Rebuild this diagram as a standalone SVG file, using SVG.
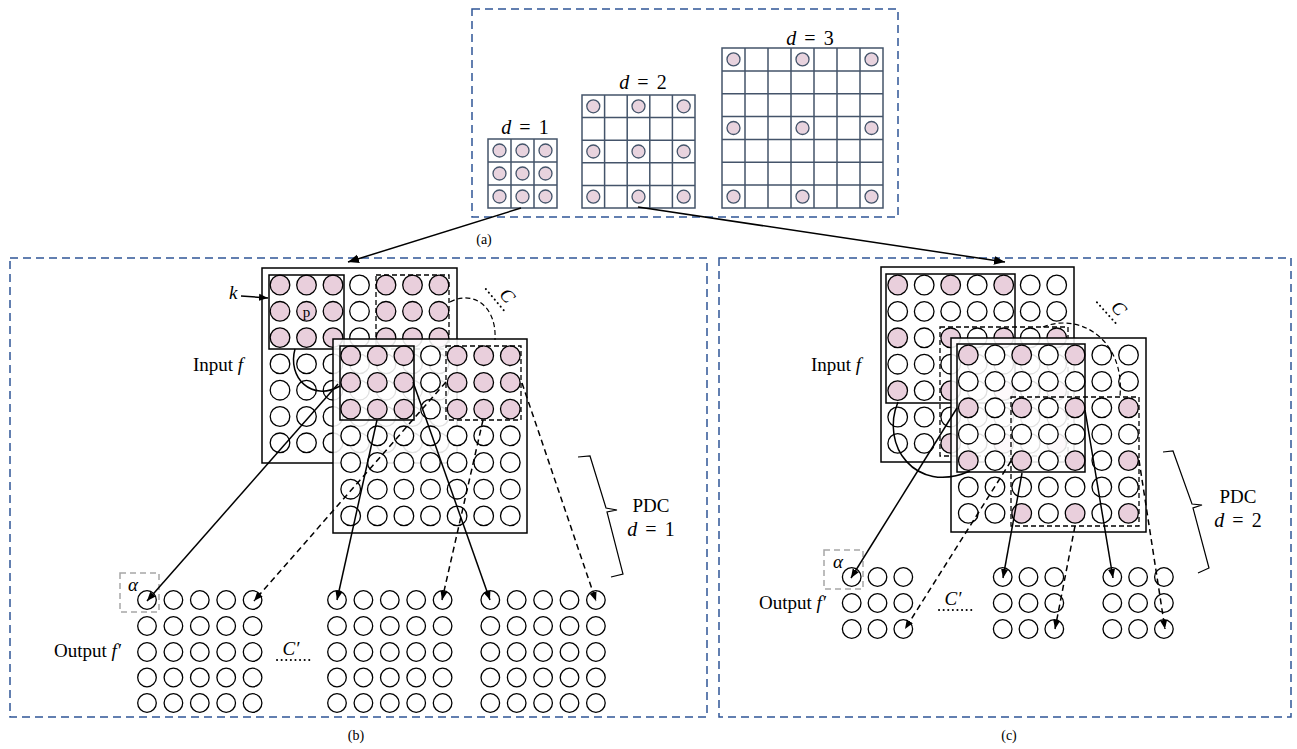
<svg xmlns="http://www.w3.org/2000/svg" xmlns:xlink="http://www.w3.org/1999/xlink" width="1297" height="749" viewBox="0 0 1297 749">
<style>
.panel{fill:none;stroke:#2f5597;stroke-width:1.5;stroke-dasharray:8,5}
.ag{fill:#fff;stroke:#44546a;stroke-width:1.5}
.agl{stroke:#44546a;stroke-width:1.5;fill:none}
.ac{fill:#e8d3de;stroke:#44546a;stroke-width:1.3}
.w{fill:#fff;stroke:#000;stroke-width:1.3}
.p{fill:#e9cfdc;stroke:#000;stroke-width:1.3}
.box{fill:#fff;stroke:#000;stroke-width:1.5}
.front{fill:#fff;fill-opacity:0.88;stroke:#000;stroke-width:1.5}
.ker{fill:none;stroke:#000;stroke-width:1.5}
.kd{fill:none;stroke:#000;stroke-width:1.3;stroke-dasharray:5,3}
.ln{fill:none;stroke:#000;stroke-width:1.5}
.dl{fill:none;stroke:#000;stroke-width:1.5;stroke-dasharray:6,4}
.cd{fill:none;stroke:#000;stroke-width:1.2;stroke-dasharray:5,3}
.dots{fill:none;stroke:#000;stroke-width:2;stroke-linecap:round;stroke-dasharray:0.1,4.5}
.alpha{fill:none;stroke:#a6a6a6;stroke-width:1.5;stroke-dasharray:6,4}
.t{font-family:"Liberation Serif","Times New Roman",serif;font-size:19px;fill:#000}
.m{font-family:"Liberation Serif","Times New Roman",serif;font-size:20px;fill:#000;word-spacing:3px}
.i{font-style:italic}
.cap{font-family:"Liberation Serif","Times New Roman",serif;font-size:14px;fill:#000;text-anchor:middle}
</style>
<defs>
<marker id="ah" viewBox="0 0 10 10" refX="10" refY="5" markerWidth="9" markerHeight="9" markerUnits="userSpaceOnUse" orient="auto"><path d="M0,1 L10,5 L0,9 z" fill="#000"/></marker>
<marker id="ahb" viewBox="0 0 10 10" refX="10" refY="5" markerWidth="11" markerHeight="11" markerUnits="userSpaceOnUse" orient="auto"><path d="M0,1 L10,5 L0,9 z" fill="#000"/></marker>
<g id="o5"><circle class="w" cx="0" cy="0" r="9.3"/><circle class="w" cx="26.4" cy="0" r="9.3"/><circle class="w" cx="52.8" cy="0" r="9.3"/><circle class="w" cx="79.2" cy="0" r="9.3"/><circle class="w" cx="105.6" cy="0" r="9.3"/></g>
<g id="o3"><circle class="w" cx="0" cy="0" r="9.3"/><circle class="w" cx="25.8" cy="0" r="9.3"/><circle class="w" cx="51.6" cy="0" r="9.3"/></g>
</defs>

<!-- panel boxes -->
<rect id="panel-a" class="panel" x="472" y="9" width="426" height="208"/>
<rect id="panel-b" class="panel" x="10" y="258" width="697" height="459"/>
<rect id="panel-c" class="panel" x="719" y="258" width="572" height="459"/>

<!-- panel (a) -->
<g id="grid-d1">
<rect class="ag" x="488" y="139" width="69" height="69"/>
<path class="agl" d="M511,139V208M534,139V208M488,162H557M488,185H557"/>
<circle class="ac" cx="499.5" cy="150.5" r="6.5"/><circle class="ac" cx="522.5" cy="150.5" r="6.5"/><circle class="ac" cx="545.5" cy="150.5" r="6.5"/>
<circle class="ac" cx="499.5" cy="173.5" r="6.5"/><circle class="ac" cx="522.5" cy="173.5" r="6.5"/><circle class="ac" cx="545.5" cy="173.5" r="6.5"/>
<circle class="ac" cx="499.5" cy="196.5" r="6.5"/><circle class="ac" cx="522.5" cy="196.5" r="6.5"/><circle class="ac" cx="545.5" cy="196.5" r="6.5"/>
<text class="m" x="525" y="134" text-anchor="middle"><tspan class="i">d</tspan> = 1</text>
</g>
<g id="grid-d2">
<rect class="ag" x="582" y="95" width="113" height="113"/>
<path class="agl" d="M604.6,95V208M627.2,95V208M649.8,95V208M672.4,95V208M582,117.6H695M582,140.2H695M582,162.8H695M582,185.4H695"/>
<circle class="ac" cx="593.3" cy="106.3" r="6.5"/><circle class="ac" cx="638.5" cy="106.3" r="6.5"/><circle class="ac" cx="683.7" cy="106.3" r="6.5"/>
<circle class="ac" cx="593.3" cy="151.5" r="6.5"/><circle class="ac" cx="638.5" cy="151.5" r="6.5"/><circle class="ac" cx="683.7" cy="151.5" r="6.5"/>
<circle class="ac" cx="593.3" cy="196.7" r="6.5"/><circle class="ac" cx="638.5" cy="196.7" r="6.5"/><circle class="ac" cx="683.7" cy="196.7" r="6.5"/>
<text class="m" x="643" y="89" text-anchor="middle"><tspan class="i">d</tspan> = 2</text>
</g>
<g id="grid-d3">
<rect class="ag" x="722" y="48" width="161" height="160"/>
<path class="agl" d="M745,48V208M768,48V208M791,48V208M814,48V208M837,48V208M860,48V208M722,70.9H883M722,93.7H883M722,116.6H883M722,139.4H883M722,162.3H883M722,185.1H883"/>
<circle class="ac" cx="733.5" cy="59.4" r="6.5"/><circle class="ac" cx="802.5" cy="59.4" r="6.5"/><circle class="ac" cx="871.5" cy="59.4" r="6.5"/>
<circle class="ac" cx="733.5" cy="128" r="6.5"/><circle class="ac" cx="802.5" cy="128" r="6.5"/><circle class="ac" cx="871.5" cy="128" r="6.5"/>
<circle class="ac" cx="733.5" cy="196.6" r="6.5"/><circle class="ac" cx="802.5" cy="196.6" r="6.5"/><circle class="ac" cx="871.5" cy="196.6" r="6.5"/>
<text class="m" x="810" y="45" text-anchor="middle"><tspan class="i">d</tspan> = 3</text>
</g>
<text class="cap" x="484" y="244">(a)</text>

<!-- panel (b) input back -->
<g id="b-input-back">
<rect class="box" x="262" y="268" width="195" height="195"/>
<g>
<circle class="p" cx="280" cy="285" r="9.8"/><circle class="p" cx="306.5" cy="285" r="9.8"/><circle class="p" cx="333" cy="285" r="9.8"/><circle class="w" cx="359.5" cy="285" r="9.8"/><circle class="p" cx="386" cy="285" r="9.8"/><circle class="p" cx="412.5" cy="285" r="9.8"/><circle class="p" cx="439" cy="285" r="9.8"/>
<circle class="p" cx="280" cy="311.3" r="9.8"/><circle class="p" cx="306.5" cy="311.3" r="9.8"/><circle class="p" cx="333" cy="311.3" r="9.8"/><circle class="w" cx="359.5" cy="311.3" r="9.8"/><circle class="p" cx="386" cy="311.3" r="9.8"/><circle class="p" cx="412.5" cy="311.3" r="9.8"/><circle class="p" cx="439" cy="311.3" r="9.8"/>
<circle class="p" cx="280" cy="337.6" r="9.8"/><circle class="p" cx="306.5" cy="337.6" r="9.8"/><circle class="p" cx="333" cy="337.6" r="9.8"/><circle class="w" cx="359.5" cy="337.6" r="9.8"/><circle class="p" cx="386" cy="337.6" r="9.8"/><circle class="p" cx="412.5" cy="337.6" r="9.8"/><circle class="p" cx="439" cy="337.6" r="9.8"/>
<circle class="w" cx="280" cy="363.9" r="9.8"/><circle class="w" cx="306.5" cy="363.9" r="9.8"/><circle class="w" cx="333" cy="363.9" r="9.8"/><circle class="w" cx="359.5" cy="363.9" r="9.8"/><circle class="w" cx="386" cy="363.9" r="9.8"/><circle class="w" cx="412.5" cy="363.9" r="9.8"/><circle class="w" cx="439" cy="363.9" r="9.8"/>
<circle class="w" cx="280" cy="390.2" r="9.8"/><circle class="w" cx="306.5" cy="390.2" r="9.8"/><circle class="w" cx="333" cy="390.2" r="9.8"/><circle class="w" cx="359.5" cy="390.2" r="9.8"/><circle class="w" cx="386" cy="390.2" r="9.8"/><circle class="w" cx="412.5" cy="390.2" r="9.8"/><circle class="w" cx="439" cy="390.2" r="9.8"/>
<circle class="w" cx="280" cy="416.5" r="9.8"/><circle class="w" cx="306.5" cy="416.5" r="9.8"/><circle class="w" cx="333" cy="416.5" r="9.8"/><circle class="w" cx="359.5" cy="416.5" r="9.8"/><circle class="w" cx="386" cy="416.5" r="9.8"/><circle class="w" cx="412.5" cy="416.5" r="9.8"/><circle class="w" cx="439" cy="416.5" r="9.8"/>
<circle class="w" cx="280" cy="442.8" r="9.8"/><circle class="w" cx="306.5" cy="442.8" r="9.8"/><circle class="w" cx="333" cy="442.8" r="9.8"/><circle class="w" cx="359.5" cy="442.8" r="9.8"/><circle class="w" cx="386" cy="442.8" r="9.8"/><circle class="w" cx="412.5" cy="442.8" r="9.8"/><circle class="w" cx="439" cy="442.8" r="9.8"/>
</g>
<rect class="ker" x="269" y="275" width="75" height="74"/>
<rect class="kd" x="376" y="275" width="73" height="74"/>
<text x="306.5" y="317" font-family="Liberation Serif, serif" font-size="15" text-anchor="middle">p</text>
</g>

<!-- panel (b) input front -->
<g id="b-input-front">
<rect class="front" x="333" y="339" width="194" height="194"/>
<circle class="p" cx="350.7" cy="355.7" r="9.8"/><circle class="p" cx="377.3" cy="355.7" r="9.8"/><circle class="p" cx="403.9" cy="355.7" r="9.8"/><circle class="w" cx="430.5" cy="355.7" r="9.8"/><circle class="p" cx="457.1" cy="355.7" r="9.8"/><circle class="p" cx="483.7" cy="355.7" r="9.8"/><circle class="p" cx="510.3" cy="355.7" r="9.8"/>
<circle class="p" cx="350.7" cy="382.4" r="9.8"/><circle class="p" cx="377.3" cy="382.4" r="9.8"/><circle class="p" cx="403.9" cy="382.4" r="9.8"/><circle class="w" cx="430.5" cy="382.4" r="9.8"/><circle class="p" cx="457.1" cy="382.4" r="9.8"/><circle class="p" cx="483.7" cy="382.4" r="9.8"/><circle class="p" cx="510.3" cy="382.4" r="9.8"/>
<circle class="p" cx="350.7" cy="409.1" r="9.8"/><circle class="p" cx="377.3" cy="409.1" r="9.8"/><circle class="p" cx="403.9" cy="409.1" r="9.8"/><circle class="w" cx="430.5" cy="409.1" r="9.8"/><circle class="p" cx="457.1" cy="409.1" r="9.8"/><circle class="p" cx="483.7" cy="409.1" r="9.8"/><circle class="p" cx="510.3" cy="409.1" r="9.8"/>
<circle class="w" cx="350.7" cy="435.8" r="9.8"/><circle class="w" cx="377.3" cy="435.8" r="9.8"/><circle class="w" cx="403.9" cy="435.8" r="9.8"/><circle class="w" cx="430.5" cy="435.8" r="9.8"/><circle class="w" cx="457.1" cy="435.8" r="9.8"/><circle class="w" cx="483.7" cy="435.8" r="9.8"/><circle class="w" cx="510.3" cy="435.8" r="9.8"/>
<circle class="w" cx="350.7" cy="462.5" r="9.8"/><circle class="w" cx="377.3" cy="462.5" r="9.8"/><circle class="w" cx="403.9" cy="462.5" r="9.8"/><circle class="w" cx="430.5" cy="462.5" r="9.8"/><circle class="w" cx="457.1" cy="462.5" r="9.8"/><circle class="w" cx="483.7" cy="462.5" r="9.8"/><circle class="w" cx="510.3" cy="462.5" r="9.8"/>
<circle class="w" cx="350.7" cy="489.2" r="9.8"/><circle class="w" cx="377.3" cy="489.2" r="9.8"/><circle class="w" cx="403.9" cy="489.2" r="9.8"/><circle class="w" cx="430.5" cy="489.2" r="9.8"/><circle class="w" cx="457.1" cy="489.2" r="9.8"/><circle class="w" cx="483.7" cy="489.2" r="9.8"/><circle class="w" cx="510.3" cy="489.2" r="9.8"/>
<circle class="w" cx="350.7" cy="515.9" r="9.8"/><circle class="w" cx="377.3" cy="515.9" r="9.8"/><circle class="w" cx="403.9" cy="515.9" r="9.8"/><circle class="w" cx="430.5" cy="515.9" r="9.8"/><circle class="w" cx="457.1" cy="515.9" r="9.8"/><circle class="w" cx="483.7" cy="515.9" r="9.8"/><circle class="w" cx="510.3" cy="515.9" r="9.8"/>
<rect class="ker" x="340" y="346" width="74" height="74"/>
<rect class="kd" x="446" y="346" width="75" height="74"/>
</g>

<!-- panel (b) outputs -->
<g id="b-out-1"><use xlink:href="#o5" x="147" y="600"/><use xlink:href="#o5" x="147" y="626"/><use xlink:href="#o5" x="147" y="652"/><use xlink:href="#o5" x="147" y="677.5"/><use xlink:href="#o5" x="147" y="703"/></g>
<g id="b-out-2"><use xlink:href="#o5" x="337" y="600"/><use xlink:href="#o5" x="337" y="626"/><use xlink:href="#o5" x="337" y="652"/><use xlink:href="#o5" x="337" y="677.5"/><use xlink:href="#o5" x="337" y="703"/></g>
<g id="b-out-3"><use xlink:href="#o5" x="490.3" y="600"/><use xlink:href="#o5" x="490.3" y="626"/><use xlink:href="#o5" x="490.3" y="652"/><use xlink:href="#o5" x="490.3" y="677.5"/><use xlink:href="#o5" x="490.3" y="703"/></g>
<rect id="b-alpha" class="alpha" x="120" y="573" width="39" height="39"/>

<!-- panel (c) input back -->
<g id="c-input-back">
<rect class="box" x="881" y="267" width="193" height="195"/>
<circle class="p" cx="897.7" cy="285" r="9.8"/><circle class="w" cx="924.2" cy="285" r="9.8"/><circle class="p" cx="950.7" cy="285" r="9.8"/><circle class="w" cx="977.2" cy="285" r="9.8"/><circle class="p" cx="1003.7" cy="285" r="9.8"/><circle class="w" cx="1030.2" cy="285" r="9.8"/><circle class="w" cx="1056.7" cy="285" r="9.8"/>
<circle class="w" cx="897.7" cy="311.4" r="9.8"/><circle class="w" cx="924.2" cy="311.4" r="9.8"/><circle class="w" cx="950.7" cy="311.4" r="9.8"/><circle class="w" cx="977.2" cy="311.4" r="9.8"/><circle class="w" cx="1003.7" cy="311.4" r="9.8"/><circle class="w" cx="1030.2" cy="311.4" r="9.8"/><circle class="w" cx="1056.7" cy="311.4" r="9.8"/>
<circle class="p" cx="897.7" cy="337.8" r="9.8"/><circle class="w" cx="924.2" cy="337.8" r="9.8"/><circle class="p" cx="950.7" cy="337.8" r="9.8"/><circle class="w" cx="977.2" cy="337.8" r="9.8"/><circle class="p" cx="1003.7" cy="337.8" r="9.8"/><circle class="w" cx="1030.2" cy="337.8" r="9.8"/><circle class="p" cx="1056.7" cy="337.8" r="9.8"/>
<circle class="w" cx="897.7" cy="364.2" r="9.8"/><circle class="w" cx="924.2" cy="364.2" r="9.8"/><circle class="w" cx="950.7" cy="364.2" r="9.8"/><circle class="w" cx="977.2" cy="364.2" r="9.8"/><circle class="w" cx="1003.7" cy="364.2" r="9.8"/><circle class="w" cx="1030.2" cy="364.2" r="9.8"/><circle class="w" cx="1056.7" cy="364.2" r="9.8"/>
<circle class="p" cx="897.7" cy="390.6" r="9.8"/><circle class="w" cx="924.2" cy="390.6" r="9.8"/><circle class="p" cx="950.7" cy="390.6" r="9.8"/><circle class="w" cx="977.2" cy="390.6" r="9.8"/><circle class="p" cx="1003.7" cy="390.6" r="9.8"/><circle class="w" cx="1030.2" cy="390.6" r="9.8"/><circle class="p" cx="1056.7" cy="390.6" r="9.8"/>
<circle class="w" cx="897.7" cy="417" r="9.8"/><circle class="w" cx="924.2" cy="417" r="9.8"/><circle class="w" cx="950.7" cy="417" r="9.8"/><circle class="w" cx="977.2" cy="417" r="9.8"/><circle class="w" cx="1003.7" cy="417" r="9.8"/><circle class="w" cx="1030.2" cy="417" r="9.8"/><circle class="w" cx="1056.7" cy="417" r="9.8"/>
<circle class="w" cx="897.7" cy="443.4" r="9.8"/><circle class="w" cx="924.2" cy="443.4" r="9.8"/><circle class="p" cx="950.7" cy="443.4" r="9.8"/><circle class="w" cx="977.2" cy="443.4" r="9.8"/><circle class="p" cx="1003.7" cy="443.4" r="9.8"/><circle class="w" cx="1030.2" cy="443.4" r="9.8"/><circle class="p" cx="1056.7" cy="443.4" r="9.8"/>
<rect class="ker" x="886" y="274" width="129" height="129"/>
<rect class="kd" x="940" y="327" width="128" height="129"/>
</g>

<!-- panel (c) input front -->
<g id="c-input-front">
<rect class="front" x="951" y="338" width="195" height="194"/>
<circle class="p" cx="968.3" cy="355" r="9.8"/><circle class="w" cx="995" cy="355" r="9.8"/><circle class="p" cx="1021.7" cy="355" r="9.8"/><circle class="w" cx="1048.4" cy="355" r="9.8"/><circle class="p" cx="1075.1" cy="355" r="9.8"/><circle class="w" cx="1101.8" cy="355" r="9.8"/><circle class="w" cx="1128.5" cy="355" r="9.8"/>
<circle class="w" cx="968.3" cy="381.4" r="9.8"/><circle class="w" cx="995" cy="381.4" r="9.8"/><circle class="w" cx="1021.7" cy="381.4" r="9.8"/><circle class="w" cx="1048.4" cy="381.4" r="9.8"/><circle class="w" cx="1075.1" cy="381.4" r="9.8"/><circle class="w" cx="1101.8" cy="381.4" r="9.8"/><circle class="w" cx="1128.5" cy="381.4" r="9.8"/>
<circle class="p" cx="968.3" cy="407.8" r="9.8"/><circle class="w" cx="995" cy="407.8" r="9.8"/><circle class="p" cx="1021.7" cy="407.8" r="9.8"/><circle class="w" cx="1048.4" cy="407.8" r="9.8"/><circle class="p" cx="1075.1" cy="407.8" r="9.8"/><circle class="w" cx="1101.8" cy="407.8" r="9.8"/><circle class="p" cx="1128.5" cy="407.8" r="9.8"/>
<circle class="w" cx="968.3" cy="434.2" r="9.8"/><circle class="w" cx="995" cy="434.2" r="9.8"/><circle class="w" cx="1021.7" cy="434.2" r="9.8"/><circle class="w" cx="1048.4" cy="434.2" r="9.8"/><circle class="w" cx="1075.1" cy="434.2" r="9.8"/><circle class="w" cx="1101.8" cy="434.2" r="9.8"/><circle class="w" cx="1128.5" cy="434.2" r="9.8"/>
<circle class="p" cx="968.3" cy="460.6" r="9.8"/><circle class="w" cx="995" cy="460.6" r="9.8"/><circle class="p" cx="1021.7" cy="460.6" r="9.8"/><circle class="w" cx="1048.4" cy="460.6" r="9.8"/><circle class="p" cx="1075.1" cy="460.6" r="9.8"/><circle class="w" cx="1101.8" cy="460.6" r="9.8"/><circle class="p" cx="1128.5" cy="460.6" r="9.8"/>
<circle class="w" cx="968.3" cy="487" r="9.8"/><circle class="w" cx="995" cy="487" r="9.8"/><circle class="w" cx="1021.7" cy="487" r="9.8"/><circle class="w" cx="1048.4" cy="487" r="9.8"/><circle class="w" cx="1075.1" cy="487" r="9.8"/><circle class="w" cx="1101.8" cy="487" r="9.8"/><circle class="w" cx="1128.5" cy="487" r="9.8"/>
<circle class="w" cx="968.3" cy="513.4" r="9.8"/><circle class="w" cx="995" cy="513.4" r="9.8"/><circle class="p" cx="1021.7" cy="513.4" r="9.8"/><circle class="w" cx="1048.4" cy="513.4" r="9.8"/><circle class="p" cx="1075.1" cy="513.4" r="9.8"/><circle class="w" cx="1101.8" cy="513.4" r="9.8"/><circle class="p" cx="1128.5" cy="513.4" r="9.8"/>
<rect class="ker" x="957" y="344" width="128" height="128"/>
<rect class="kd" x="1011" y="397" width="128" height="129"/>
</g>

<!-- panel (c) outputs -->
<g id="c-out-1"><use xlink:href="#o3" x="851.7" y="577"/><use xlink:href="#o3" x="851.7" y="603"/><use xlink:href="#o3" x="851.7" y="629"/></g>
<g id="c-out-2"><use xlink:href="#o3" x="1002.7" y="577"/><use xlink:href="#o3" x="1002.7" y="603"/><use xlink:href="#o3" x="1002.7" y="629"/></g>
<g id="c-out-3"><use xlink:href="#o3" x="1112.3" y="577"/><use xlink:href="#o3" x="1112.3" y="603"/><use xlink:href="#o3" x="1112.3" y="629"/></g>
<rect id="c-alpha" class="alpha" x="824" y="550" width="39" height="39"/>

<!-- connectors -->
<g id="connectors">
<path class="ln" d="M521,208L348,262" marker-end="url(#ahb)"/>
<path class="ln" d="M638,207L1005,262" marker-end="url(#ahb)"/>
<path class="ln" d="M241,296L268,298" marker-end="url(#ah)"/>
<path class="ln" d="M295,349C287,378 312,402 340,386"/>
<path class="cd" d="M450,302C472,290 497,305 495,340"/>
<path class="ln" d="M338,384L147,601" marker-end="url(#ah)"/>
<path class="dl" d="M446,382L254,601" marker-end="url(#ah)"/>
<path class="ln" d="M377,420L337,600" marker-end="url(#ah)"/>
<path class="dl" d="M483,420L442,600" marker-end="url(#ah)"/>
<path class="ln" d="M413,382L490,600" marker-end="url(#ah)"/>
<path class="dl" d="M522,383L596,601" marker-end="url(#ah)"/>
<path class="ln" d="M898,402C880,445 915,495 970,471"/>
<path class="cd" d="M1043,327C1080,312 1125,340 1120,396"/>
<path class="ln" d="M957,408L851,578" marker-end="url(#ah)"/>
<path class="dl" d="M1011,461L905,629" marker-end="url(#ah)"/>
<path class="ln" d="M1022,473L1003,578" marker-end="url(#ah)"/>
<path class="dl" d="M1075,526L1055,629" marker-end="url(#ah)"/>
<path class="ln" d="M1085,410L1113,578" marker-end="url(#ah)"/>
<path class="dl" d="M1139,460L1165,629" marker-end="url(#ah)"/>
<path fill="none" stroke="#000" stroke-width="1.2" d="M578,457L590,456L606,508L617,510L607,512L623,574L611,577"/>
<path fill="none" stroke="#000" stroke-width="1.2" d="M1163,452L1173,451L1192,504L1202,505L1193,508L1209,568L1198,573"/>
</g>

<!-- labels -->
<g id="labels">
<text class="t i" x="229" y="299" font-size="20">k</text>
<text class="t" x="193" y="371">Input <tspan class="i">f</tspan></text>
<text class="t" x="811" y="371">Input <tspan class="i">f</tspan></text>
<text class="t" x="54" y="657">Output <tspan class="i">f′</tspan></text>
<text class="t" x="759" y="609">Output <tspan class="i">f′</tspan></text>
<text class="t i" x="128" y="591" font-size="17">α</text>
<text class="t i" x="833" y="568" font-size="17">α</text>
<text class="t" x="651" y="512" text-anchor="middle">PDC</text>
<text class="m" x="651" y="536" text-anchor="middle"><tspan class="i">d</tspan> = 1</text>
<text class="t" x="1238" y="503" text-anchor="middle">PDC</text>
<text class="m" x="1238" y="527" text-anchor="middle"><tspan class="i">d</tspan> = 2</text>
<g transform="translate(495.5,300.5) rotate(50)"><path class="dots" d="M-15,0H15"/><text class="t i" x="4" y="-6" font-size="16" text-anchor="middle">C</text></g>
<g transform="translate(1107,313.5) rotate(48)"><path class="dots" d="M-15,0H15"/><text class="t i" x="4" y="-6" font-size="16" text-anchor="middle">C</text></g>
<path class="dots" d="M277,660H310"/>
<text class="t i" x="291" y="655" font-size="16" text-anchor="middle">C′</text>
<path class="dots" d="M939,610H972"/>
<text class="t i" x="953" y="605" font-size="16" text-anchor="middle">C′</text>
<text class="cap" x="356" y="740">(b)</text>
<text class="cap" x="1009" y="740">(c)</text>
</g>
</svg>
